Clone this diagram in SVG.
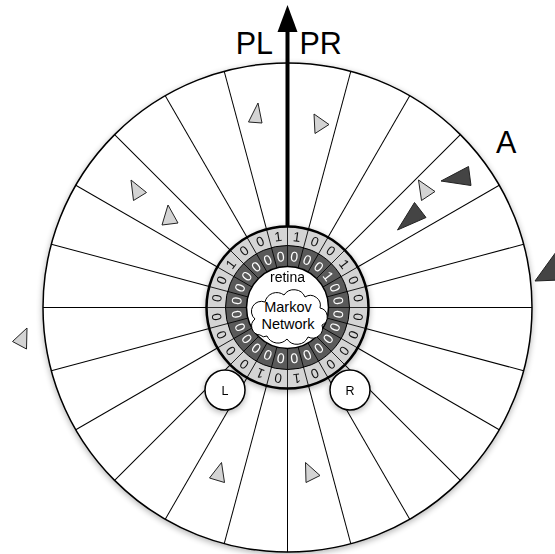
<svg xmlns="http://www.w3.org/2000/svg" width="555" height="554" viewBox="0 0 555 554">
<defs>
<filter id="sh" x="-20%" y="-20%" width="140%" height="140%">
<feGaussianBlur in="SourceAlpha" stdDeviation="3"/>
<feOffset dy="2"/>
<feComponentTransfer><feFuncA type="linear" slope="0.3"/></feComponentTransfer>
<feMerge><feMergeNode/><feMergeNode in="SourceGraphic"/></feMerge>
</filter>
<style>
.spoke{stroke:#000;stroke-width:1;fill:none}
.div{stroke:#000;stroke-width:0.8;fill:none}
.d1{font-family:"Liberation Sans",Arial,sans-serif;font-size:13.5px;fill:#111;text-anchor:middle}
.d2{font-family:"Liberation Sans",Arial,sans-serif;font-size:14px;fill:#fff;text-anchor:middle}
.lbl{font-family:"Liberation Sans",Arial,sans-serif;fill:#000}
.tl{fill:#d4d4d4;stroke:#222;stroke-width:1;stroke-linejoin:round}
.td{fill:#444;stroke:#222;stroke-width:1;stroke-linejoin:round}
</style>
</defs>
<rect width="555" height="554" fill="#fff"/>

<g id="arena">
<circle cx="287.5" cy="307.5" r="244.5" fill="#fff" stroke="#000" stroke-width="1.5" filter="url(#sh)"/>
<g id="spokes">
<line class="spoke" x1="287.5" y1="226.5" x2="287.5" y2="63" transform="rotate(15 287.5 307.5)"/>
<line class="spoke" x1="287.5" y1="226.5" x2="287.5" y2="63" transform="rotate(30 287.5 307.5)"/>
<line class="spoke" x1="287.5" y1="226.5" x2="287.5" y2="63" transform="rotate(45 287.5 307.5)"/>
<line class="spoke" x1="287.5" y1="226.5" x2="287.5" y2="63" transform="rotate(60 287.5 307.5)"/>
<line class="spoke" x1="287.5" y1="226.5" x2="287.5" y2="63" transform="rotate(75 287.5 307.5)"/>
<line class="spoke" x1="287.5" y1="226.5" x2="287.5" y2="63" transform="rotate(90 287.5 307.5)"/>
<line class="spoke" x1="287.5" y1="226.5" x2="287.5" y2="63" transform="rotate(105 287.5 307.5)"/>
<line class="spoke" x1="287.5" y1="226.5" x2="287.5" y2="63" transform="rotate(120 287.5 307.5)"/>
<line class="spoke" x1="287.5" y1="226.5" x2="287.5" y2="63" transform="rotate(135 287.5 307.5)"/>
<line class="spoke" x1="287.5" y1="226.5" x2="287.5" y2="63" transform="rotate(150 287.5 307.5)"/>
<line class="spoke" x1="287.5" y1="226.5" x2="287.5" y2="63" transform="rotate(165 287.5 307.5)"/>
<line class="spoke" x1="287.5" y1="226.5" x2="287.5" y2="63" transform="rotate(180 287.5 307.5)"/>
<line class="spoke" x1="287.5" y1="226.5" x2="287.5" y2="63" transform="rotate(195 287.5 307.5)"/>
<line class="spoke" x1="287.5" y1="226.5" x2="287.5" y2="63" transform="rotate(210 287.5 307.5)"/>
<line class="spoke" x1="287.5" y1="226.5" x2="287.5" y2="63" transform="rotate(225 287.5 307.5)"/>
<line class="spoke" x1="287.5" y1="226.5" x2="287.5" y2="63" transform="rotate(240 287.5 307.5)"/>
<line class="spoke" x1="287.5" y1="226.5" x2="287.5" y2="63" transform="rotate(255 287.5 307.5)"/>
<line class="spoke" x1="287.5" y1="226.5" x2="287.5" y2="63" transform="rotate(270 287.5 307.5)"/>
<line class="spoke" x1="287.5" y1="226.5" x2="287.5" y2="63" transform="rotate(285 287.5 307.5)"/>
<line class="spoke" x1="287.5" y1="226.5" x2="287.5" y2="63" transform="rotate(300 287.5 307.5)"/>
<line class="spoke" x1="287.5" y1="226.5" x2="287.5" y2="63" transform="rotate(315 287.5 307.5)"/>
<line class="spoke" x1="287.5" y1="226.5" x2="287.5" y2="63" transform="rotate(330 287.5 307.5)"/>
<line class="spoke" x1="287.5" y1="226.5" x2="287.5" y2="63" transform="rotate(345 287.5 307.5)"/>
</g>
</g>

<g id="agents">
<polygon class="tl" points="27,328 12.5,341.5 26.5,349"/>
<polygon class="tl" points="221.5,462.5 209.5,478 224.5,482.5"/>
<polygon class="tl" points="305.5,462.5 320,475.5 306,482.5"/>
<polygon class="tl" points="131,180 146.5,192.5 133.5,200.5"/>
<polygon class="tl" points="168,205 178,223 162,225"/>
<polygon class="tl" points="258,103 248.5,122 262,123"/>
<polygon class="tl" points="314,114 329,124.5 315,133.5"/>
<polygon class="tl" points="418.5,180 435,191.5 421.5,200.5"/>
<polygon class="td" points="468.5,166.5 441,181 471,185.5"/>
<polygon class="td" points="414.5,202.5 426,217.5 397.5,230"/>
<polygon class="td" points="556,252 535,281 560,280"/>
</g>

<g id="retina" filter="url(#sh)">
<circle cx="287.5" cy="307.5" r="81" fill="#d4d4d4"/>
<circle cx="287.5" cy="307.5" r="62" fill="#5a5a5a"/>
<g id="dividers">
<line class="div" x1="287.5" y1="266.5" x2="287.5" y2="226.5" transform="rotate(0 287.5 307.5)"/>
<line class="div" x1="287.5" y1="266.5" x2="287.5" y2="226.5" transform="rotate(15 287.5 307.5)"/>
<line class="div" x1="287.5" y1="266.5" x2="287.5" y2="226.5" transform="rotate(30 287.5 307.5)"/>
<line class="div" x1="287.5" y1="266.5" x2="287.5" y2="226.5" transform="rotate(45 287.5 307.5)"/>
<line class="div" x1="287.5" y1="266.5" x2="287.5" y2="226.5" transform="rotate(60 287.5 307.5)"/>
<line class="div" x1="287.5" y1="266.5" x2="287.5" y2="226.5" transform="rotate(75 287.5 307.5)"/>
<line class="div" x1="287.5" y1="266.5" x2="287.5" y2="226.5" transform="rotate(90 287.5 307.5)"/>
<line class="div" x1="287.5" y1="266.5" x2="287.5" y2="226.5" transform="rotate(105 287.5 307.5)"/>
<line class="div" x1="287.5" y1="266.5" x2="287.5" y2="226.5" transform="rotate(120 287.5 307.5)"/>
<line class="div" x1="287.5" y1="266.5" x2="287.5" y2="226.5" transform="rotate(135 287.5 307.5)"/>
<line class="div" x1="287.5" y1="266.5" x2="287.5" y2="226.5" transform="rotate(150 287.5 307.5)"/>
<line class="div" x1="287.5" y1="266.5" x2="287.5" y2="226.5" transform="rotate(165 287.5 307.5)"/>
<line class="div" x1="287.5" y1="266.5" x2="287.5" y2="226.5" transform="rotate(180 287.5 307.5)"/>
<line class="div" x1="287.5" y1="266.5" x2="287.5" y2="226.5" transform="rotate(195 287.5 307.5)"/>
<line class="div" x1="287.5" y1="266.5" x2="287.5" y2="226.5" transform="rotate(210 287.5 307.5)"/>
<line class="div" x1="287.5" y1="266.5" x2="287.5" y2="226.5" transform="rotate(225 287.5 307.5)"/>
<line class="div" x1="287.5" y1="266.5" x2="287.5" y2="226.5" transform="rotate(240 287.5 307.5)"/>
<line class="div" x1="287.5" y1="266.5" x2="287.5" y2="226.5" transform="rotate(255 287.5 307.5)"/>
<line class="div" x1="287.5" y1="266.5" x2="287.5" y2="226.5" transform="rotate(270 287.5 307.5)"/>
<line class="div" x1="287.5" y1="266.5" x2="287.5" y2="226.5" transform="rotate(285 287.5 307.5)"/>
<line class="div" x1="287.5" y1="266.5" x2="287.5" y2="226.5" transform="rotate(300 287.5 307.5)"/>
<line class="div" x1="287.5" y1="266.5" x2="287.5" y2="226.5" transform="rotate(315 287.5 307.5)"/>
<line class="div" x1="287.5" y1="266.5" x2="287.5" y2="226.5" transform="rotate(330 287.5 307.5)"/>
<line class="div" x1="287.5" y1="266.5" x2="287.5" y2="226.5" transform="rotate(345 287.5 307.5)"/>
</g>
<circle cx="287.5" cy="307.5" r="62" fill="none" stroke="#000" stroke-width="1"/>
<circle cx="287.5" cy="307.5" r="81" fill="none" stroke="#000" stroke-width="2.5"/>
<circle cx="287.5" cy="307.5" r="41" fill="#fff" stroke="#000" stroke-width="1.5"/>
<g id="outer-bits">
<text class="d1" x="287.5" y="240.8" transform="rotate(7.5 287.5 307.5)">1</text>
<text class="d1" x="287.5" y="240.8" transform="rotate(22.5 287.5 307.5)">0</text>
<text class="d1" x="287.5" y="240.8" transform="rotate(37.5 287.5 307.5)">0</text>
<text class="d1" x="287.5" y="240.8" transform="rotate(52.5 287.5 307.5)">1</text>
<text class="d1" x="287.5" y="240.8" transform="rotate(67.5 287.5 307.5)">0</text>
<text class="d1" x="287.5" y="240.8" transform="rotate(82.5 287.5 307.5)">0</text>
<text class="d1" x="287.5" y="240.8" transform="rotate(97.5 287.5 307.5)">0</text>
<text class="d1" x="287.5" y="240.8" transform="rotate(112.5 287.5 307.5)">0</text>
<text class="d1" x="287.5" y="240.8" transform="rotate(127.5 287.5 307.5)">0</text>
<text class="d1" x="287.5" y="240.8" transform="rotate(142.5 287.5 307.5)">0</text>
<text class="d1" x="287.5" y="240.8" transform="rotate(157.5 287.5 307.5)">0</text>
<text class="d1" x="287.5" y="240.8" transform="rotate(172.5 287.5 307.5)">1</text>
<text class="d1" x="287.5" y="240.8" transform="rotate(187.5 287.5 307.5)">0</text>
<text class="d1" x="287.5" y="240.8" transform="rotate(202.5 287.5 307.5)">1</text>
<text class="d1" x="287.5" y="240.8" transform="rotate(217.5 287.5 307.5)">0</text>
<text class="d1" x="287.5" y="240.8" transform="rotate(232.5 287.5 307.5)">0</text>
<text class="d1" x="287.5" y="240.8" transform="rotate(247.5 287.5 307.5)">0</text>
<text class="d1" x="287.5" y="240.8" transform="rotate(262.5 287.5 307.5)">0</text>
<text class="d1" x="287.5" y="240.8" transform="rotate(277.5 287.5 307.5)">0</text>
<text class="d1" x="287.5" y="240.8" transform="rotate(292.5 287.5 307.5)">0</text>
<text class="d1" x="287.5" y="240.8" transform="rotate(307.5 287.5 307.5)">1</text>
<text class="d1" x="287.5" y="240.8" transform="rotate(322.5 287.5 307.5)">0</text>
<text class="d1" x="287.5" y="240.8" transform="rotate(337.5 287.5 307.5)">0</text>
<text class="d1" x="287.5" y="240.8" transform="rotate(352.5 287.5 307.5)">1</text>
</g>
<g id="inner-bits">
<text class="d2" x="287.5" y="261" transform="rotate(7.5 287.5 307.5)">0</text>
<text class="d2" x="287.5" y="261" transform="rotate(22.5 287.5 307.5)">0</text>
<text class="d2" x="287.5" y="261" transform="rotate(37.5 287.5 307.5)">0</text>
<text class="d2" x="287.5" y="261" transform="rotate(52.5 287.5 307.5)">1</text>
<text class="d2" x="287.5" y="261" transform="rotate(67.5 287.5 307.5)">0</text>
<text class="d2" x="287.5" y="261" transform="rotate(82.5 287.5 307.5)">0</text>
<text class="d2" x="287.5" y="261" transform="rotate(97.5 287.5 307.5)">0</text>
<text class="d2" x="287.5" y="261" transform="rotate(112.5 287.5 307.5)">0</text>
<text class="d2" x="287.5" y="261" transform="rotate(127.5 287.5 307.5)">0</text>
<text class="d2" x="287.5" y="261" transform="rotate(142.5 287.5 307.5)">0</text>
<text class="d2" x="287.5" y="261" transform="rotate(157.5 287.5 307.5)">0</text>
<text class="d2" x="287.5" y="261" transform="rotate(172.5 287.5 307.5)">0</text>
<text class="d2" x="287.5" y="261" transform="rotate(187.5 287.5 307.5)">0</text>
<text class="d2" x="287.5" y="261" transform="rotate(202.5 287.5 307.5)">0</text>
<text class="d2" x="287.5" y="261" transform="rotate(217.5 287.5 307.5)">0</text>
<text class="d2" x="287.5" y="261" transform="rotate(232.5 287.5 307.5)">0</text>
<text class="d2" x="287.5" y="261" transform="rotate(247.5 287.5 307.5)">0</text>
<text class="d2" x="287.5" y="261" transform="rotate(262.5 287.5 307.5)">0</text>
<text class="d2" x="287.5" y="261" transform="rotate(277.5 287.5 307.5)">0</text>
<text class="d2" x="287.5" y="261" transform="rotate(292.5 287.5 307.5)">0</text>
<text class="d2" x="287.5" y="261" transform="rotate(307.5 287.5 307.5)">0</text>
<text class="d2" x="287.5" y="261" transform="rotate(322.5 287.5 307.5)">0</text>
<text class="d2" x="287.5" y="261" transform="rotate(337.5 287.5 307.5)">0</text>
<text class="d2" x="287.5" y="261" transform="rotate(352.5 287.5 307.5)">0</text>
</g>
<text class="lbl" x="287.5" y="282" font-size="14" text-anchor="middle">retina</text>
</g>

<g id="markov">
<path d="M 260 335 a 9 9 0 0 1 -5 -16 a 10 10 0 0 1 10 -17 a 12 12 0 0 1 19 -7 a 12 12 0 0 1 21 2 a 10 10 0 0 1 15 11 a 9 9 0 0 1 2 17 a 10 10 0 0 1 -14 12 a 12 12 0 0 1 -21 2 a 12 12 0 0 1 -20 -3 a 6 6 0 0 1 -7 -1 Z" fill="#fff" stroke="#000" stroke-width="1"/>
<text class="lbl" x="288" y="312" font-size="14.5" text-anchor="middle">Markov</text>
<text class="lbl" x="288" y="329" font-size="14.5" text-anchor="middle">Network</text>
</g>

<g id="motor-L" filter="url(#sh)">
<circle cx="225" cy="390" r="20" fill="#fff" stroke="#000" stroke-width="1.5"/>
<text class="lbl" x="225" y="394.5" font-size="12.5" text-anchor="middle">L</text>
</g>
<g id="motor-R" filter="url(#sh)">
<circle cx="350" cy="390" r="20" fill="#fff" stroke="#000" stroke-width="1.5"/>
<text class="lbl" x="350" y="394.5" font-size="12.5" text-anchor="middle">R</text>
</g>

<g id="connectors">
<line x1="287.5" y1="226" x2="287.5" y2="30" stroke="#000" stroke-width="4"/>
<polygon points="287.5,5 277.5,32 297.5,32" fill="#000"/>
</g>

<g id="labels">
<text class="lbl" x="273" y="54" font-size="30.5" text-anchor="end">PL</text>
<text class="lbl" x="299.5" y="54" font-size="30.5">PR</text>
<text class="lbl" x="496" y="153" font-size="30.5">A</text>
</g>
</svg>
